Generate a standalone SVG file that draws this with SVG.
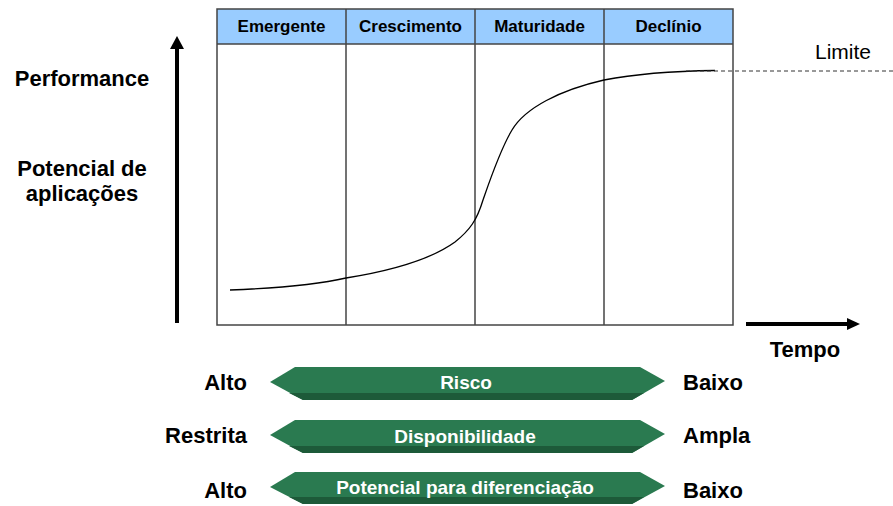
<svg xmlns="http://www.w3.org/2000/svg" width="893" height="506" viewBox="0 0 893 506">
<style>
.b{font-family:"Liberation Sans",Arial,sans-serif;font-weight:bold;fill:#000}
.lab{font-size:22px}
.hd{font-size:17px;text-anchor:middle}
.wt{font-family:"Liberation Sans",Arial,sans-serif;font-weight:bold;font-size:19px;fill:#fff;text-anchor:middle}
.grid{stroke:#444;stroke-width:1.5;fill:none}
.face{fill:#2a7a50}
.shade{fill:#1d5a39}
</style>
<g id="chart">
<rect x="217" y="9" width="516" height="35" fill="#99ccff"/>
<rect x="217" y="9" width="516" height="316" class="grid"/>
<line x1="217" y1="44" x2="733" y2="44" class="grid"/>
<line x1="346" y1="9" x2="346" y2="325" class="grid"/>
<line x1="475" y1="9" x2="475" y2="325" class="grid"/>
<line x1="604" y1="9" x2="604" y2="325" class="grid"/>
<text class="b hd" x="281.5" y="32">Emergente</text>
<text class="b hd" x="410.5" y="32">Crescimento</text>
<text class="b hd" x="539.5" y="32">Maturidade</text>
<text class="b hd" x="668.5" y="32">Declínio</text>
</g>
<g id="curve">
<path d="M230,290 C280,288 320,284 346,278 C390,271 430,260 455,242 C470,230 477,220 483,200 C490,180 500,150 512,130 C525,108 560,90 604,80 C640,73 680,71 715,70.5" fill="none" stroke="#000" stroke-width="1.3"/>
<line x1="686" y1="71" x2="893" y2="71" stroke="#333" stroke-width="1" stroke-dasharray="4,3"/>
<text x="815" y="59" font-family="Liberation Sans,Arial,sans-serif" font-size="21" fill="#000">Limite</text>
</g>
<g id="axes">
<line x1="177" y1="323" x2="177" y2="48" stroke="#000" stroke-width="4"/>
<polygon points="177,36 184,49 170,49" fill="#000"/>
<line x1="746" y1="324" x2="848" y2="324" stroke="#000" stroke-width="4"/>
<polygon points="860,324 847,318 847,330" fill="#000"/>
</g>
<g id="ylabels">
<text class="b lab" x="82" y="86" text-anchor="middle">Performance</text>
<text class="b lab" x="82" y="176" text-anchor="middle">Potencial de</text>
<text class="b lab" x="82" y="201" text-anchor="middle">aplicações</text>
<text class="b lab" x="805" y="357" text-anchor="middle">Tempo</text>
</g>
<g id="risco">
<polygon class="face" points="295,367 640,367 665,381 632,400 303,400 270,382"/>
<polygon class="shade" points="289,393 644,393 632,400 303,400"/>
<text class="wt" x="466" y="389">Risco</text>
<text class="b lab" x="247" y="390" text-anchor="end">Alto</text>
<text class="b lab" x="683" y="390">Baixo</text>
</g>
<g id="disponibilidade">
<polygon class="face" points="295,420 640,420 665,434 632,453 303,453 270,435"/>
<polygon class="shade" points="289,446 644,446 632,453 303,453"/>
<text class="wt" x="465" y="443">Disponibilidade</text>
<text class="b lab" x="247" y="443" text-anchor="end">Restrita</text>
<text class="b lab" x="683" y="443">Ampla</text>
</g>
<g id="diferenciacao">
<polygon class="face" points="295,472 640,472 665,486 632,504 303,504 270,487"/>
<polygon class="shade" points="289,497 644,497 632,504 303,504"/>
<text class="wt" x="465" y="494">Potencial para diferenciação</text>
<text class="b lab" x="247" y="498" text-anchor="end">Alto</text>
<text class="b lab" x="683" y="498">Baixo</text>
</g>
</svg>
